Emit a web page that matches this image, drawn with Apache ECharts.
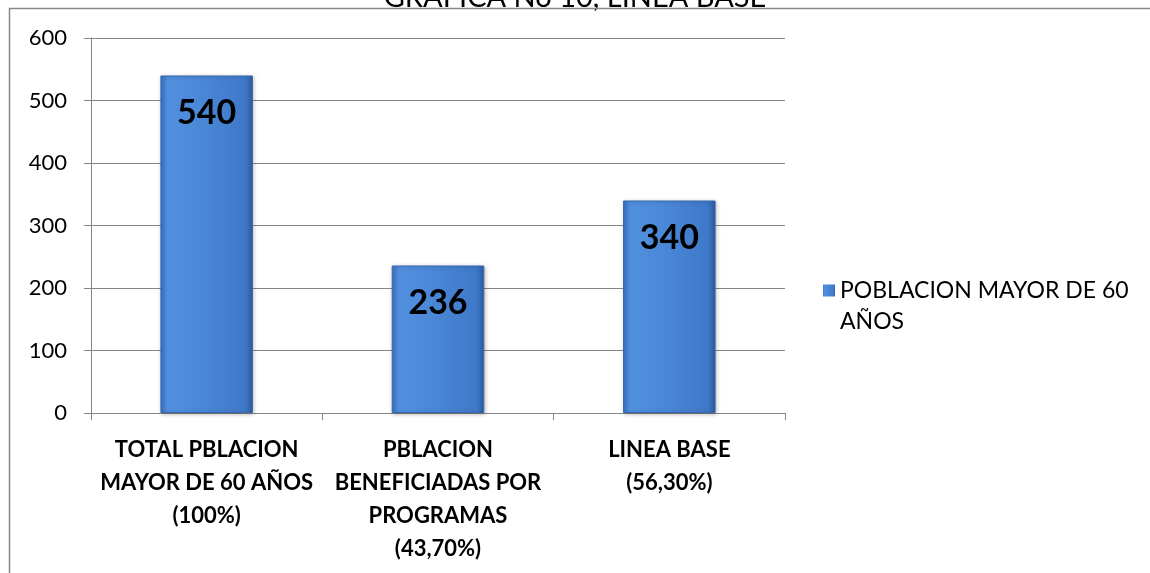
<!DOCTYPE html>
<html>
<head>
<meta charset="utf-8">
<script src="https://cdn.jsdelivr.net/npm/echarts@6/dist/echarts.min.js"></script>
<style>
  html, body { margin: 0; padding: 0; background: #fff; }
  #chart { width: 1150px; height: 573px; }
</style>
</head>
<body>
<div id="chart"></div>
<script>
// datos de la grafica
const categories = [
  "TOTAL PBLACION\nMAYOR DE 60 AÑOS\n(100%)",
  "PBLACION\nBENEFICIADAS POR\nPROGRAMAS\n(43,70%)",
  "LINEA BASE\n(56,30%)",
];
const values = [540, 236, 340];
const seriesName = "POBLACION MAYOR DE 60 AÑOS";
const yTicks = [0, 100, 200, 300, 400, 500, 600];

const chart = echarts.init(document.getElementById("chart"), null, { renderer: "canvas" });

const barColor = new echarts.graphic.LinearGradient(0, 0, 1, 0, [
  { offset: 0, color: "#3A70BF" },
  { offset: 0.08, color: "#5190DF" },
  { offset: 0.5, color: "#4A86D6" },
  { offset: 0.92, color: "#3F78C8" },
  { offset: 1, color: "#2D5A9C" },
]);

const option = {
  backgroundColor: "#fff",
  animation: false,
  title: {
    text: "GRAFICA No 10, LINEA BASE",
    left: "center",
    top: -22,
    textStyle: { fontFamily: "Lato", fontSize: 29, fontWeight: "normal", color: "#000" },
  },
  graphic: [
    {
      type: "rect",
      shape: { x: 9.5, y: 8.5, width: 1300, height: 700 },
      style: { fill: "none", stroke: "#888", lineWidth: 1.5 },
      z: 100,
    },
  ],
  grid: { left: 91, right: 365, top: 38, bottom: 160 },
  legend: {
    left: 818,
    top: 270,
    // cuadro arriba, caja alta para alinear con la primera linea
    icon: "path://M0,0H12V12H0Z M0,43L12,43",
    itemWidth: 12,
    itemHeight: 43,
    itemGap: 6,
    itemStyle: { borderWidth: 0 },
    formatter: () => "POBLACION MAYOR DE 60\nAÑOS",
    textStyle: {
      fontFamily: "Lato",
      fontSize: 23,
      color: "#000",
      lineHeight: 31,
    },
  },
  xAxis: {
    type: "category",
    data: categories,
    axisLine: { lineStyle: { color: "#868686", width: 1 } },
    axisTick: { show: true, length: 7, lineStyle: { color: "#868686" } },
    axisLabel: {
      interval: 0,
      margin: 20,
      fontFamily: "Lato",
      fontWeight: "bold",
      fontSize: 22,
      lineHeight: 33,
      color: "#000",
      align: "center",
    },
  },
  yAxis: {
    type: "value",
    min: yTicks[0],
    max: yTicks[yTicks.length - 1],
    interval: 100,
    axisLine: { show: true, lineStyle: { color: "#868686", width: 1 } },
    axisTick: { show: true, length: 7, lineStyle: { color: "#868686" } },
    splitLine: { lineStyle: { color: "#868686", width: 1 } },
    axisLabel: {
      margin: 24,
      fontFamily: "Lato",
      fontSize: 22,
      color: "#000",
    },
  },
  series: [
    {
      name: seriesName,
      type: "bar",
      data: values,
      barWidth: "40%",
      itemStyle: {
        color: barColor,
        borderColor: "#3566AD",
        borderWidth: 1,
        shadowColor: "rgba(0,0,0,0.25)",
        shadowBlur: 4,
        shadowOffsetX: 1,
        shadowOffsetY: 1,
      },
      label: {
        show: true,
        position: "insideTop",
        distance: 21,
        fontFamily: "Lato",
        fontWeight: "bold",
        fontSize: 34,
        color: "#000",
      },
    },
  ],
};

chart.setOption(option);
</script>
</body>
</html>
